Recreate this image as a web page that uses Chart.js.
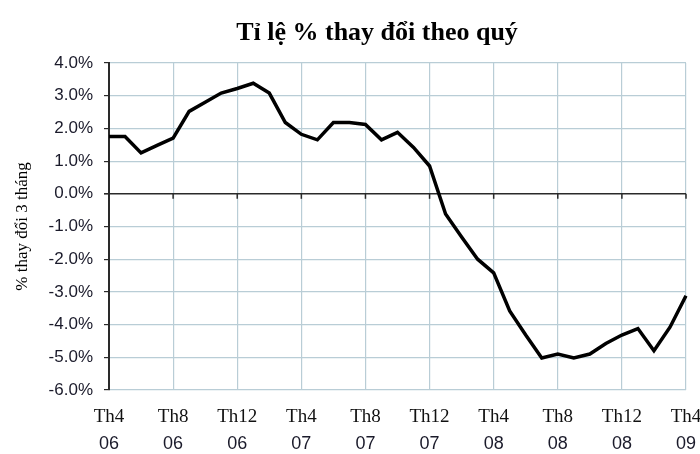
<!DOCTYPE html>
<html>
<head>
<meta charset="utf-8">
<script src="https://cdn.jsdelivr.net/npm/chart.js@4/dist/chart.umd.min.js"></script>
<style>
  html, body { margin: 0; padding: 0; background: #fff; }
  canvas { display: block; }
</style>
</head>
<body>
<canvas id="quyChart" width="700" height="454"></canvas>
<script>
// Du lieu theo thang: Th4/06 -> Th4/09
const thang = [
    'T4/06', 'T5/06', 'T6/06', 'T7/06', 'T8/06', 'T9/06', 'T10/06', 'T11/06', 'T12/06',
    'T1/07', 'T2/07', 'T3/07', 'T4/07', 'T5/07', 'T6/07', 'T7/07', 'T8/07', 'T9/07', 'T10/07', 'T11/07', 'T12/07',
    'T1/08', 'T2/08', 'T3/08', 'T4/08', 'T5/08', 'T6/08', 'T7/08', 'T8/08', 'T9/08', 'T10/08', 'T11/08', 'T12/08',
    'T1/09', 'T2/09', 'T3/09', 'T4/09'
];

const tyLe = [
    1.75, 1.75, 1.25, 1.48, 1.70, 2.52, 2.80, 3.08, 3.22,
    3.38, 3.08, 2.18, 1.82, 1.65, 2.18, 2.18, 2.12, 1.65, 1.88, 1.42, 0.85,
    -0.62, -1.32, -2.00, -2.42, -3.58, -4.32, -5.02, -4.90, -5.02, -4.90, -4.58, -4.32,
    -4.12, -4.80, -4.08, -3.12
];

// Nhan truc X (moi 4 thang)
const nhanThang = ['Th4', 'Th8', 'Th12', 'Th4', 'Th8', 'Th12', 'Th4', 'Th8', 'Th12', 'Th4'];
const nhanNam = ['06', '06', '06', '07', '07', '07', '08', '08', '08', '09'];

const yTicks = [-6, -5, -4, -3, -2, -1, 0, 1, 2, 3, 4];

const tieuDe = 'Tỉ lệ % thay đổi theo quý';
const tieuDeTrucY = '% thay đổi 3 tháng';

const mauLuoi = '#b9cdd6';
const mauTruc = '#2a2a2a';

// Ve tieu de, nhan truc X va vach chia tren duong 0
const veThem = {
    id: 'veThem',
    afterDraw(chart) {
        const ctx = chart.ctx;
        const x = chart.scales.x;
        const y = chart.scales.y;
        ctx.save();

        ctx.fillStyle = '#000';
        ctx.font = 'bold 26px "Liberation Serif", "Times New Roman", serif';
        ctx.textAlign = 'center';
        ctx.textBaseline = 'middle';
        ctx.fillText(tieuDe, 377, 33);

        const y0 = y.getPixelForValue(0);
        ctx.strokeStyle = mauTruc;
        ctx.lineWidth = 1.5;
        for (let i = 4; i < thang.length; i += 4) {
            const px = x.getPixelForValue(i);
            ctx.beginPath();
            ctx.moveTo(px, y0);
            ctx.lineTo(px, y0 + 5);
            ctx.stroke();
        }

        for (let k = 0; k < nhanThang.length; k++) {
            const px = x.getPixelForValue(k * 4);
            ctx.fillStyle = '#111';
            ctx.font = '19px "Liberation Serif", "Times New Roman", serif';
            ctx.fillText(nhanThang[k], px, 417);
            ctx.fillStyle = '#1a1a2a';
            ctx.font = '18px "Liberation Sans", Arial, sans-serif';
            ctx.fillText(nhanNam[k], px, 444);
        }
        ctx.restore();
    }
};

const nenTrang = {
    id: 'nenTrang',
    beforeDraw(chart) {
        const ctx = chart.ctx;
        ctx.save();
        ctx.fillStyle = '#fff';
        ctx.fillRect(0, 0, chart.width, chart.height);
        ctx.restore();
    }
};

new Chart(document.getElementById('quyChart'), {
    type: 'line',
    data: {
        labels: thang,
        datasets: [{
            data: tyLe,
            borderColor: '#000',
            borderWidth: 3.5,
            pointRadius: 0,
            tension: 0,
            fill: false
        }]
    },
    options: {
        responsive: false,
        animation: false,
        layout: { padding: { top: 63, right: 14, bottom: 64, left: 0 } },
        plugins: {
            legend: { display: false },
            title: { display: false },
            tooltip: { enabled: false }
        },
        scales: {
            x: {
                offset: false,
                ticks: { display: false },
                border: { display: false },
                grid: {
                    drawTicks: false,
                    lineWidth: 1.2,
                    color: c => (c.index % 4 === 0 ? mauLuoi : 'rgba(0,0,0,0)')
                }
            },
            y: {
                min: yTicks[0],
                max: yTicks[yTicks.length - 1],
                afterBuildTicks: s => { s.ticks = yTicks.map(v => ({ value: v })); },
                afterFit: s => { s.width = 109; },
                border: { display: true, color: mauTruc, width: 2 },
                grid: {
                    tickLength: 5,
                    tickColor: mauTruc,
                    lineWidth: c => (c.tick && c.tick.value === 0 ? 1.6 : 1.2),
                    color: c => (c.tick && c.tick.value === 0 ? mauTruc : mauLuoi)
                },
                ticks: {
                    padding: 11,
                    color: '#1a1a2a',
                    font: { family: '"Liberation Sans", Arial, sans-serif', size: 17 },
                    callback: v => v.toFixed(1) + '%'
                },
                title: {
                    display: true,
                    text: tieuDeTrucY,
                    color: '#000',
                    padding: { top: 12, bottom: 0 },
                    font: { family: '"Liberation Serif", "Times New Roman", serif', size: 17 }
                }
            }
        }
    },
    plugins: [nenTrang, veThem]
});
</script>
</body>
</html>
